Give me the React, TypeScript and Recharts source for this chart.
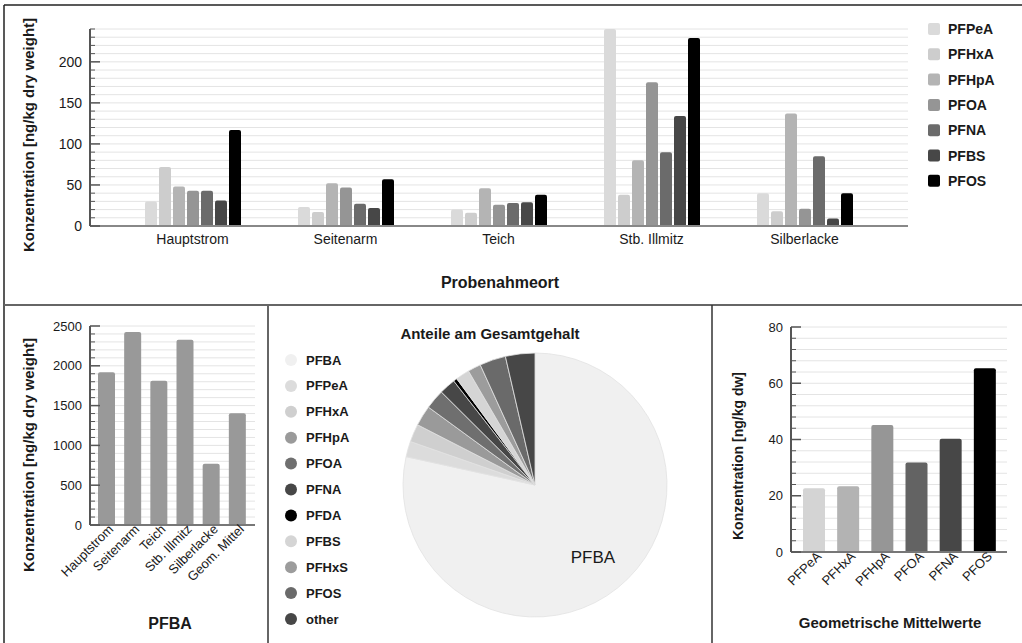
import { BarChart, Bar, XAxis, YAxis, CartesianGrid, PieChart, Pie, Cell } from "recharts";

// top chart: concentrations per sampling site
const sites = ["Hauptstrom", "Seitenarm", "Teich", "Stb. Illmitz", "Silberlacke"];
const PFPeA = [30, 23, 20, 240, 40];
const PFHxA = [72, 17, 16, 38, 18];
const PFHpA = [48, 52, 46, 80, 137];
const PFOA = [43, 47, 26, 175, 21];
const PFNA = [43, 27, 28, 90, 85];
const PFBS = [31, 22, 29, 134, 9];
const PFOS = [117, 57, 38, 229, 40];
const compounds = ["PFPeA", "PFHxA", "PFHpA", "PFOA", "PFNA", "PFBS", "PFOS"];
const compoundColors = ["#dadada", "#cdcdcd", "#b4b4b4", "#959595", "#6b6b6b", "#474747", "#000000"];
const topTicks = [0, 10, 20, 30, 40, 50, 60, 70, 80, 90, 100, 110, 120, 130, 140, 150, 160, 170, 180, 190, 200, 210, 220, 230, 240];

// PFBA panel
const pfbaSites = ["Hauptstrom", "Seitenarm", "Teich", "Stb. Illmitz", "Silberlacke", "Geom. Mittel"];
const pfbaValues = [1920, 2425, 1812, 2328, 768, 1405];
const pfbaTicks = [0, 100, 200, 300, 400, 500, 600, 700, 800, 900, 1000, 1100, 1200, 1300, 1400, 1500, 1600, 1700, 1800, 1900, 2000, 2100, 2200, 2300, 2400, 2500];

// geometric means panel
const geomNames = ["PFPeA", "PFHxA", "PFHpA", "PFOA", "PFNA", "PFOS"];
const geomValues = [22.7, 23.4, 45.2, 31.8, 40.3, 65.3];
const geomColors = ["#d4d4d4", "#b3b3b3", "#969696", "#636363", "#474747", "#000000"];
const geomTicks = [0, 4, 8, 12, 16, 20, 24, 28, 32, 36, 40, 44, 48, 52, 56, 60, 64, 68, 72, 76, 80];

// pie: share of total
const pieNames = ["PFBA", "PFPeA", "PFHxA", "PFHpA", "PFOA", "PFNA", "PFDA", "PFBS", "PFHxS", "PFOS", "other"];
const pieShares = [78.4, 1.9, 2.2, 2.5, 2.4, 2.0, 0.45, 1.7, 1.6, 3.2, 3.6];
const pieColors = ["#f0f0f0", "#dcdcdc", "#cfcfcf", "#9a9a9a", "#6f6f6f", "#474747", "#000000", "#d5d5d5", "#9c9c9c", "#6a6a6a", "#474747"];

const siteData = sites.map((site, i) => ({
  site,
  PFPeA: PFPeA[i],
  PFHxA: PFHxA[i],
  PFHpA: PFHpA[i],
  PFOA: PFOA[i],
  PFNA: PFNA[i],
  PFBS: PFBS[i],
  PFOS: PFOS[i],
}));
const pfbaData = pfbaSites.map((site, i) => ({ site, value: pfbaValues[i] }));
const geomData = geomNames.map((name, i) => ({ name, value: geomValues[i] }));
const pieData = pieNames.map((name, i) => ({ name, value: pieShares[i] }));

const txt = "#1a1a1a";

// y ticks: small marks inside the axis, label only on the major steps
const yTick = (major: number, fontSize: number) => (props: any) => {
  const { x, y, payload } = props;
  const v = payload.value;
  const isMajor = v % major === 0;
  const ax = x + 8;
  return (
    <g>
      <line x1={ax} x2={ax + (isMajor ? 10 : 5)} y1={y} y2={y} stroke="#555" strokeWidth={isMajor ? 1.5 : 1} />
      {isMajor && (
        <text x={x} y={y} dy="0.35em" textAnchor="end" fontSize={fontSize} fill={txt}>
          {v}
        </text>
      )}
    </g>
  );
};

const rotTick = (fontSize: number) => (props: any) => {
  const { x, y, payload } = props;
  const tx = x + 8;
  const ty = y + 1;
  return (
    <text x={tx} y={ty} transform={`rotate(-45 ${tx} ${ty})`} textAnchor="end" fontSize={fontSize} fill={txt}>
      {payload.value}
    </text>
  );
};

const pieLabel = (p: any) => {
  if (p.index !== 0) return null;
  const r = p.outerRadius * 0.7;
  const a = (-p.midAngle * Math.PI) / 180;
  return (
    <text x={p.cx + r * Math.cos(a)} y={p.cy + r * Math.sin(a)} textAnchor="middle" dominantBaseline="central" fontSize={17} fill={txt}>
      {p.name}
    </text>
  );
};

export default function App() {
  return (
    <div
      style={{
        position: "absolute",
        left: 0,
        top: 0,
        width: 1022,
        height: 643,
        background: "#fff",
        fontFamily: "'Liberation Sans', Arial, sans-serif",
      }}
    >
      <div style={{ position: "absolute", left: 0, top: 0 }}>
        <BarChart width={1022} height={305} data={siteData} margin={{ top: 29, right: 114, bottom: 49, left: 0 }} barSize={12} barGap={2}>
          <CartesianGrid vertical={false} stroke="#e4e4e4" />
          <XAxis
            dataKey="site"
            height={30}
            padding={{ left: 26, right: 27 }}
            tickLine={false}
            axisLine={{ stroke: "#888", strokeWidth: 2 }}
            tick={{ fontSize: 14, fill: txt }}
          />
          <YAxis
            width={90}
            domain={[0, 240]}
            ticks={topTicks}
            interval={0}
            tickSize={0}
            tickMargin={8}
            tickLine={false}
            axisLine={{ stroke: "#555", strokeWidth: 2 }}
            tick={yTick(50, 14)}
          />
          {compounds.map((c, i) => (
            <Bar key={c} dataKey={c} fill={compoundColors[i]} radius={[2, 2, 0, 0]} isAnimationActive={false} />
          ))}
        </BarChart>
      </div>

      <div style={{ position: "absolute", left: 0, top: 305 }}>
        <BarChart width={268} height={338} data={pfbaData} margin={{ top: 21, right: 13, bottom: 48, left: 0 }} barSize={17}>
          <CartesianGrid vertical={false} stroke="#e4e4e4" />
          <XAxis
            dataKey="site"
            height={70}
            padding={{ left: 3, right: 5 }}
            interval={0}
            tickLine={false}
            tickSize={0}
            tickMargin={4}
            axisLine={{ stroke: "#777", strokeWidth: 2 }}
            tick={rotTick(13)}
          />
          <YAxis
            width={90}
            domain={[0, 2500]}
            ticks={pfbaTicks}
            interval={0}
            tickSize={0}
            tickMargin={8}
            tickLine={false}
            axisLine={{ stroke: "#555", strokeWidth: 2 }}
            tick={yTick(500, 13)}
          />
          <Bar dataKey="value" fill="#999999" radius={[2, 2, 0, 0]} isAnimationActive={false} />
        </BarChart>
      </div>

      <div style={{ position: "absolute", left: 268, top: 305 }}>
        <PieChart width={444} height={338} margin={{ top: 0, right: 0, bottom: 0, left: 0 }}>
          <Pie
            data={pieData}
            dataKey="value"
            nameKey="name"
            cx={267}
            cy={180}
            outerRadius={132}
            startAngle={90}
            endAngle={-270}
            stroke="#e2e2e2"
            strokeWidth={0.8}
            label={pieLabel}
            labelLine={false}
            isAnimationActive={false}
          >
            {pieData.map((d, i) => (
              <Cell key={d.name} fill={pieColors[i]} />
            ))}
          </Pie>
        </PieChart>
      </div>

      <div style={{ position: "absolute", left: 712, top: 305 }}>
        <BarChart width={310} height={338} data={geomData} margin={{ top: 22, right: 15, bottom: 31, left: 0 }} barSize={22}>
          <CartesianGrid vertical={false} stroke="#e4e4e4" />
          <XAxis
            dataKey="name"
            height={60}
            padding={{ left: 6, right: 5 }}
            interval={0}
            tickLine={false}
            tickSize={0}
            tickMargin={4}
            axisLine={{ stroke: "#777", strokeWidth: 2 }}
            tick={rotTick(13)}
          />
          <YAxis
            width={79}
            domain={[0, 80]}
            ticks={geomTicks}
            interval={0}
            tickSize={0}
            tickMargin={8}
            tickLine={false}
            axisLine={{ stroke: "#555", strokeWidth: 2 }}
            tick={yTick(20, 13)}
          />
          <Bar dataKey="value" radius={[2, 2, 0, 0]} isAnimationActive={false}>
            {geomData.map((d, i) => (
              <Cell key={d.name} fill={geomColors[i]} />
            ))}
          </Bar>
        </BarChart>
      </div>

      <svg width={1022} height={643} style={{ position: "absolute", left: 0, top: 0, pointerEvents: "none" }}>
        {/* panel frame */}
        <line x1={4} y1={5} x2={1022} y2={5} stroke="#222" strokeWidth={1.5} />
        <line x1={4} y1={5} x2={4} y2={643} stroke="#222" strokeWidth={1.5} />
        <line x1={4} y1={305} x2={1022} y2={305} stroke="#666" strokeWidth={2} />
        <line x1={268} y1={305} x2={268} y2={643} stroke="#666" strokeWidth={2} />
        <line x1={712} y1={305} x2={712} y2={643} stroke="#333" strokeWidth={1.5} />

        {/* top panel texts + legend */}
        <text x={28} y={135} transform="rotate(-90 28 135)" textAnchor="middle" dominantBaseline="central" fontSize={15} fontWeight="bold" fill={txt}>
          Konzentration [ng/kg dry weight]
        </text>
        <text x={500} y={282} textAnchor="middle" dominantBaseline="central" fontSize={16} fontWeight="bold" fill={txt}>
          Probenahmeort
        </text>
        {compounds.map((c, i) => (
          <g key={c}>
            <rect x={928} y={23 + i * 25.3} width={12} height={12} rx={2} fill={compoundColors[i]} />
            <text x={948} y={29 + i * 25.3} dominantBaseline="central" fontSize={14} fontWeight="bold" fill={txt}>
              {c}
            </text>
          </g>
        ))}

        {/* PFBA panel */}
        <text x={28} y={455} transform="rotate(-90 28 455)" textAnchor="middle" dominantBaseline="central" fontSize={15} fontWeight="bold" fill={txt}>
          Konzentration [ng/kg dry weight]
        </text>
        <text x={170} y={623} textAnchor="middle" dominantBaseline="central" fontSize={16} fontWeight="bold" fill={txt}>
          PFBA
        </text>

        {/* pie panel */}
        <text x={490} y={333} textAnchor="middle" dominantBaseline="central" fontSize={15} fontWeight="bold" fill={txt}>
          Anteile am Gesamtgehalt
        </text>
        {pieNames.map((n, i) => (
          <g key={n}>
            <circle cx={291} cy={360 + i * 25.9} r={6} fill={pieColors[i]} />
            <text x={306} y={360 + i * 25.9} dominantBaseline="central" fontSize={13} fontWeight="bold" fill={txt}>
              {n}
            </text>
          </g>
        ))}

        {/* geometric means panel */}
        <text x={738} y={456} transform="rotate(-90 738 456)" textAnchor="middle" dominantBaseline="central" fontSize={14} fontWeight="bold" fill={txt}>
          Konzentration [ng/kg dw]
        </text>
        <text x={890} y={622} textAnchor="middle" dominantBaseline="central" fontSize={15} fontWeight="bold" fill={txt}>
          Geometrische Mittelwerte
        </text>
      </svg>
    </div>
  );
}
